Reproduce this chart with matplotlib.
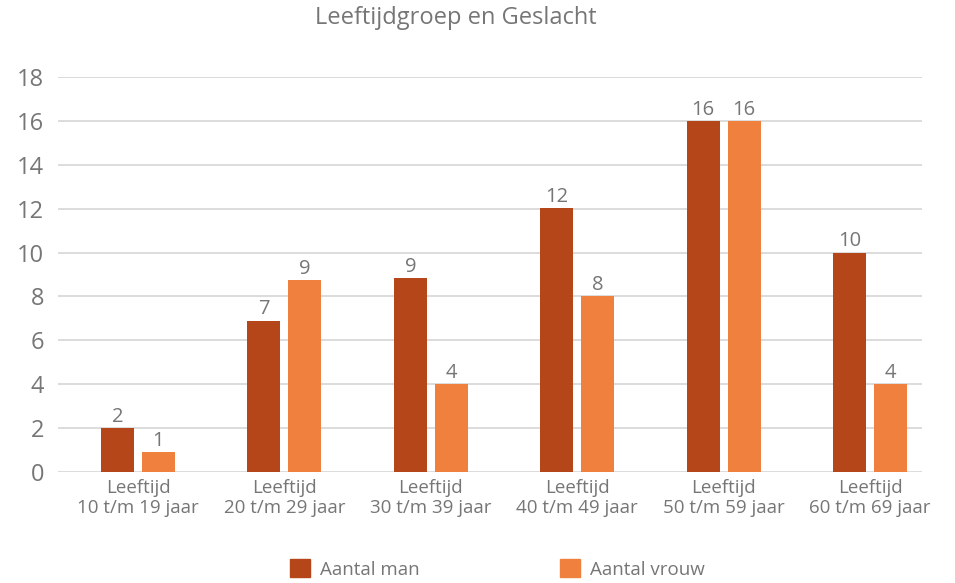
import matplotlib
matplotlib.use("Agg")
import matplotlib.pyplot as plt
import numpy as np
from matplotlib.patches import Patch

categories = ["Leeftijd\n10 t/m 19 jaar", "Leeftijd\n20 t/m 29 jaar", "Leeftijd\n30 t/m 39 jaar",
              "Leeftijd\n40 t/m 49 jaar", "Leeftijd\n50 t/m 59 jaar", "Leeftijd\n60 t/m 69 jaar"]
man = [2, 6.9, 8.85, 12.05, 16, 10]
vrouw = [0.9, 8.75, 4, 8, 16, 4]
series_names = ["Aantal man", "Aantal vrouw"]
yticks = [0, 2, 4, 6, 8, 10, 12, 14, 16, 18]

c_man = "#B4461A"
c_vrouw = "#EF803D"
txt = "#767676"
font = "Open Sans"

plt.rcParams["font.family"] = [font, "DejaVu Sans"]

fig = plt.figure(figsize=(9.55, 5.83), dpi=100)
ax = fig.add_axes([58/955, 1-471.7/583, (922-58)/955, (471.7-77.3)/583])

x = np.arange(len(categories))
w = 0.225
off = 0.14
b1 = ax.bar(x - off, man, w, color=c_man, zorder=3)
b2 = ax.bar(x + off, vrouw, w, color=c_vrouw, zorder=3)
for bars, vals in ((b1, man), (b2, vrouw)):
    for r, v in zip(bars, vals):
        ax.text(r.get_x() + r.get_width()/2, v + 0.05, f"{v:.0f}", ha="center", va="bottom",
                fontsize=14.5, color=txt)

ax.set_xlim(-0.546, 5.355)
ax.set_ylim(0, 18)
ax.set_yticks(yticks)
ax.set_xticks(x)
ax.set_xticklabels(categories, fontsize=13.5, color=txt, linespacing=1.2)
ax.tick_params(axis="y", length=0, pad=10, labelsize=17, labelcolor=txt)
ax.tick_params(axis="x", length=0, pad=5)
for s in ax.spines.values():
    s.set_visible(False)
ax.grid(axis="y", color="#d9d9d9", linewidth=1.3, zorder=0)

fig.text(456/955, 1-18/583, "Leeftijdgroep en Geslacht", ha="center", va="center",
         fontsize=17, color=txt)

handles = [Patch(color=c_man), Patch(color=c_vrouw)]
fig.legend(handles, series_names, loc="center", bbox_to_anchor=(497/955, 1-569/583), ncol=2,
           frameon=False, fontsize=13.5, labelcolor=txt, handlelength=1.1, handleheight=1.1,
           handletextpad=0.5, columnspacing=7.5)

fig.savefig("out.png", dpi=100)
